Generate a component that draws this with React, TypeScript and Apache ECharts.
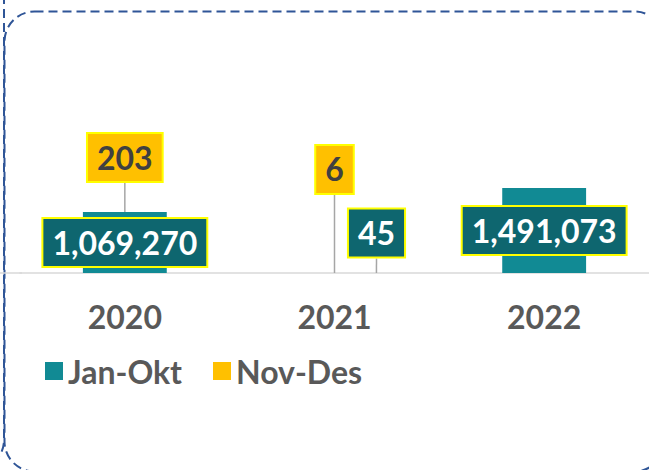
import React, { useEffect, useRef } from "react";
import * as echarts from "echarts";

const categories = ["2020", "2021", "2022"];
const seriesNames = ["Jan-Okt", "Nov-Des"];
const janOkt = [1069270, 45, 1491073];
const novDes: (number | null)[] = [203, 6, null];

// label displacement (layout only)
const janOktShift = [[0, 0], [42, -40], [0, 0]];
const novDesShift = [[0, -26], [0, -75], [0, 0]];

const TEAL = "#118A94";
const TEAL_DARK = "#0E666F";
const GOLD = "#FFC000";
const BORDER = "#FFFF00";
const FONT = "Lato";

const fmt = (v: number) => v.toLocaleString("en-US");

export default function App() {
  const ref = useRef<HTMLDivElement>(null);
  useEffect(() => {
    document.body.style.margin = "0";
    const chart = echarts.init(ref.current!, null, { renderer: "svg" });
    const labelBase = {
      show: true,
      fontFamily: FONT,
      fontSize: 32,
      fontWeight: "bold" as const,
      lineHeight: 32,
      borderColor: BORDER,
      borderWidth: 2,
      padding: [7, 9, 8, 9],
      formatter: (p: any) => fmt(p.value),
    };
    chart.setOption({
      animation: false,
      textStyle: { fontFamily: FONT },
      grid: { left: 20, right: -6, top: 159, bottom: 197 },
      legend: {
        left: 40,
        top: 350,
        icon: "rect",
        itemWidth: 18,
        itemHeight: 18,
        itemGap: 31,
        itemTextGap: 10,
        data: seriesNames,
        textStyle: { fontFamily: FONT, fontSize: 32, lineHeight: 32, fontWeight: "bold", color: "#595959" },
      },
      xAxis: {
        type: "category",
        data: categories,
        axisTick: { show: false },
        axisLine: { lineStyle: { color: "#d9d9d9", width: 1.5 } },
        axisLabel: { fontFamily: FONT, fontSize: 32, lineHeight: 32, fontWeight: "bold", color: "#595959", margin: 27 },
      },
      yAxis: { type: "value", min: 0, max: 2000000, show: false, splitLine: { show: false } },
      graphic: [
        {
          type: "line",
          silent: true,
          shape: { x1: 0, y1: 273, x2: 22, y2: 273 },
          style: { stroke: "#d9d9d9", lineWidth: 1.5 },
        },
        {
          type: "rect",
          silent: true,
          z: -1,
          shape: { x: 4.5, y: 11.5, width: 660, height: 460, r: 30 },
          style: { fill: "transparent", stroke: "#2F5597", lineWidth: 2, lineDash: [9, 5] },
        },
        {
          type: "rect",
          silent: true,
          z: -1,
          shape: { x: -600, y: -60, width: 604, height: 530, r: 30 },
          style: { fill: "transparent", stroke: "#2F5597", lineWidth: 2, lineDash: [9, 5] },
        },
      ],
      series: [
        {
          name: seriesNames[0],
          type: "bar",
          stack: "total",
          barWidth: "40%",
          itemStyle: { color: TEAL },
          data: janOkt.map((v, i) => ({ value: v, labelLine: { show: i === 1 } })),
          label: {
            ...labelBase,
            position: "inside",
            color: "#ffffff",
            backgroundColor: TEAL_DARK,
          },
          labelLine: { show: true, lineStyle: { color: "#a6a6a6", width: 1.5 } },
          labelLayout: (p: any) => ({ dx: janOktShift[p.dataIndex][0], dy: janOktShift[p.dataIndex][1] }),
        },
        {
          name: seriesNames[1],
          type: "bar",
          stack: "total",
          barWidth: "40%",
          itemStyle: { color: GOLD },
          data: novDes,
          label: {
            ...labelBase,
            position: "top",
            color: "#404040",
            backgroundColor: GOLD,
          },
          labelLine: { show: true, lineStyle: { color: "#a6a6a6", width: 1.5 } },
          labelLayout: (p: any) => ({ dx: novDesShift[p.dataIndex][0], dy: novDesShift[p.dataIndex][1] }),
        },
      ],
    });
    return () => chart.dispose();
  }, []);
  return <div ref={ref} style={{ width: 649, height: 470 }} />;
}
